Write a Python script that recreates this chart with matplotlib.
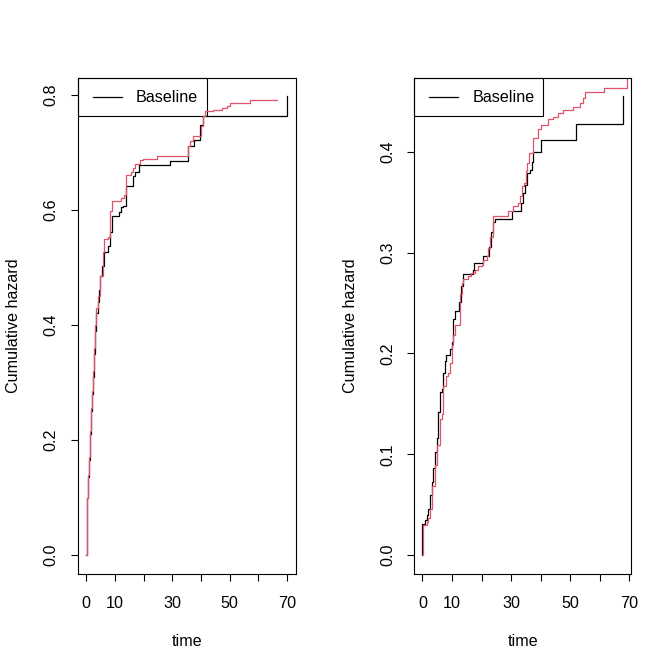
import matplotlib.pyplot as plt
from matplotlib.patches import Rectangle
from matplotlib.lines import Line2D

plt.rcParams['font.family'] = ['Liberation Sans', 'DejaVu Sans']

# ---- left panel: cumulative hazard step curves ----
left_base_t = [0, 0.2, 0.5, 0.8, 1.1, 1.4, 1.7, 2.0, 2.4, 2.8, 3.2, 3.6, 4.0, 4.6, 5.0,
               5.5, 6.4, 7.6, 8.2, 9.0, 11.5, 12.0, 12.9, 13.8, 16.4, 17.2, 18.4, 29.2,
               35.4, 37.4, 39.6, 40.8, 70.1]
left_base_v = [0, 0.05, 0.10, 0.135, 0.165, 0.21, 0.25, 0.28, 0.31, 0.35, 0.39, 0.42, 0.44,
               0.46, 0.485, 0.503, 0.527, 0.537, 0.561, 0.590, 0.596, 0.604, 0.607, 0.641,
               0.658, 0.666, 0.677, 0.685, 0.711, 0.721, 0.747, 0.762, 0.797]
left_new_t = [0, 0.2, 0.5, 0.8, 1.1, 1.4, 1.7, 2.0, 2.4, 2.8, 3.2, 3.6, 4.0, 4.7, 5.9, 6.4,
              7.6, 8.2, 9.0, 12.3, 13.2, 13.8, 14.6, 15.8, 16.4, 16.9, 18.7, 19.9, 24.6,
              35.4, 36.1, 37.3, 40.0, 40.6, 41.4, 44.3, 47.3, 49.0, 50.2, 57.2, 66.6]
left_new_v = [0, 0.05, 0.10, 0.14, 0.17, 0.215, 0.255, 0.285, 0.32, 0.36, 0.40, 0.43, 0.45,
              0.485, 0.526, 0.549, 0.552, 0.598, 0.615, 0.621, 0.625, 0.660, 0.661, 0.665,
              0.673, 0.679, 0.686, 0.689, 0.694, 0.711, 0.719, 0.728, 0.745, 0.762, 0.771,
              0.773, 0.777, 0.781, 0.786, 0.790, 0.791]

# ---- right panel ----
right_base_t = [0, 0, 0.8, 1.4, 1.9, 2.5, 3.1, 3.6, 4.2, 4.8, 5.3, 5.9, 6.5, 7.0, 7.6, 7.9,
                9.3, 9.9, 10.4, 11.0, 12.4, 12.9, 13.6, 13.8, 17.0, 17.4, 20.4, 22.6, 23.1,
                24.0, 24.5, 30.2, 33.4, 33.9, 34.7, 35.3, 36.4, 37.0, 37.5, 40.0, 51.9, 68.0]
right_base_v = [0, 0.031, 0.035, 0.040, 0.046, 0.060, 0.073, 0.086, 0.102, 0.116, 0.142,
                0.162, 0.165, 0.181, 0.193, 0.198, 0.204, 0.211, 0.234, 0.242, 0.251, 0.267,
                0.277, 0.279, 0.283, 0.290, 0.297, 0.306, 0.320, 0.330, 0.333, 0.341, 0.349,
                0.359, 0.367, 0.379, 0.382, 0.390, 0.400, 0.412, 0.428, 0.455]
right_new_t = [0, 0.2, 1.4, 1.9, 2.5, 3.4, 4.2, 5.0, 5.9, 6.5, 7.0, 7.9, 8.7, 9.3, 9.9, 10.2,
               11.0, 12.7, 13.3, 13.8, 15.5, 16.6, 17.8, 18.9, 20.0, 20.6, 21.7, 22.3, 22.8,
               24.0, 29.1, 30.7, 32.4, 33.0, 33.6, 34.4, 35.1, 35.5, 36.2, 37.3, 39.2, 40.0,
               42.6, 44.3, 46.0, 47.7, 51.1, 53.4, 54.3, 55.1, 61.3, 69.2]
right_new_v = [0, 0.030, 0.033, 0.037, 0.046, 0.069, 0.089, 0.109, 0.135, 0.140, 0.168,
               0.178, 0.181, 0.191, 0.208, 0.218, 0.228, 0.259, 0.270, 0.274, 0.277, 0.280,
               0.283, 0.287, 0.288, 0.293, 0.297, 0.305, 0.316, 0.336, 0.341, 0.346, 0.349,
               0.356, 0.366, 0.369, 0.381, 0.389, 0.399, 0.414, 0.423, 0.427, 0.433, 0.435,
               0.438, 0.441, 0.444, 0.448, 0.453, 0.459, 0.463, 0.490]

x_ticks = [0, 10, 20, 30, 40, 50, 60, 70]
x_labels = ['0', '10', '', '30', '', '50', '', '70']
left_yticks = [0.0, 0.2, 0.4, 0.6, 0.8]
right_yticks = [0.0, 0.1, 0.2, 0.3, 0.4]

RED = '#DF536B'
FS = 11.6
W, H = 672, 672


def r_lim(vals):
    lo, hi = min(vals), max(vals)
    d = (hi - lo) * 0.04
    return lo - d, hi + d


def panel(left_px, width_px, bt, bv, nt, nv, yticks):
    top_px, bot_px = 78, 573.5
    ax = fig.add_axes([left_px / W, 1 - bot_px / H, width_px / W, (bot_px - top_px) / H])
    ax.step(bt, bv, where='post', color='black', lw=0.9)
    ax.step(nt, nv, where='post', color=RED, lw=0.9)
    ax.set_xlim(*r_lim(bt))
    ax.set_ylim(*r_lim(bv))
    ax.set_xticks(x_ticks)
    ax.set_xticklabels(x_labels)
    ax.set_yticks(yticks)
    ax.set_yticklabels(['%.1f' % y for y in yticks], rotation=90, va='center')
    ax.tick_params(direction='out', length=5, width=0.8, labelsize=FS)
    ax.tick_params(axis='x', pad=11)
    ax.tick_params(axis='y', pad=9)
    for s in ax.spines.values():
        s.set_linewidth(0.8)

    # legend box (drawn by hand, top-left)
    bw = 129 / width_px
    bh = 38 / (bot_px - top_px)
    ax.add_patch(Rectangle((0, 1 - bh), bw, bh, transform=ax.transAxes, fill=False,
                           edgecolor='black', lw=0.8, clip_on=False))
    ly = 1 - bh / 2
    ax.add_line(Line2D([15 / width_px, 44 / width_px], [ly, ly], transform=ax.transAxes,
                       color='black', lw=0.9))
    ax.text(58 / width_px, ly, 'Baseline', transform=ax.transAxes, ha='left', va='center',
            fontsize=FS)

    cx = (left_px + width_px / 2) / W
    fig.text(cx, 1 - 641 / H, 'time', ha='center', va='center', fontsize=FS)
    fig.text((left_px - 64) / W, 1 - (top_px + bot_px) / 2 / H, 'Cumulative hazard',
             rotation=90, ha='center', va='center', fontsize=FS)
    return ax


fig = plt.figure(figsize=(6.72, 6.72), dpi=100)
fig.patch.set_facecolor('white')

panel(78, 217.5, left_base_t, left_base_v, left_new_t, left_new_v, left_yticks)
panel(414.4, 217, right_base_t, right_base_v, right_new_t, right_new_v, right_yticks)

plt.savefig('out.png', dpi=100, facecolor='white')
plt.close()
